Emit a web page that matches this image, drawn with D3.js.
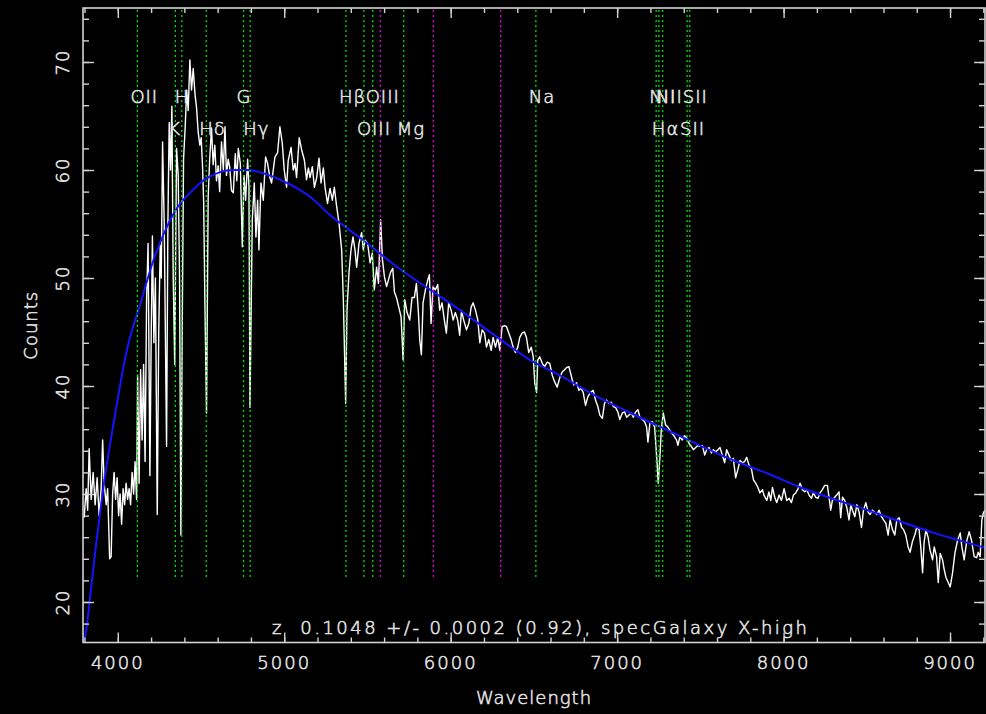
<!DOCTYPE html>
<html>
<head>
<meta charset="utf-8">
<script src="https://cdn.jsdelivr.net/npm/d3@7/dist/d3.min.js"></script>
<style>
  html, body { margin: 0; padding: 0; background: #000; }
  svg { display: block; }
  text { font-family: "DejaVu Sans", "Liberation Sans", sans-serif; font-weight: 200; fill: #e4e4e4; stroke: #e4e4e4; stroke-width: 0.55px; font-size: 18px; letter-spacing: 1px; }
</style>
</head>
<body>
<svg id="chart" width="986" height="714"></svg>
<script>
// ---- data ----
const redshift = 0.1048;
const xTicks = [4000, 5000, 6000, 7000, 8000, 9000];
const yTicks = [20, 30, 40, 50, 60, 70];

// spectral features (rest-frame wavelengths, Angstrom)
const lineNames = ["OII", "K", "H", "Hδ", "G", "Hγ", "Hβ", "OIII", "OIII", "Mg", "Na", "NII", "Hα", "NII", "SII", "SII"];
const lineRest  = [3727.1, 3933.7, 3968.5, 4101.7, 4304.4, 4340.5, 4861.3, 4958.9, 5006.8, 5175.3, 5894.0, 6548.1, 6562.8, 6583.4, 6716.4, 6730.8];
const lineRow   = [0, 1, 0, 1, 0, 1, 0, 1, 0, 1, 0, 0, 1, 0, 1, 0];
// night-sky lines (observed frame)
const skyLines = [5577.3, 5895.9, 6300.3];

// smooth continuum fit [wavelength, counts]
const continuum = [
  [3792,16.0],[3814,17.8],[3832,20.2],[3852,23.0],[3872,25.6],[3894,28.3],[3912,30.4],[3942,33.5],
  [3972,36.3],[4002,39.0],[4032,41.6],[4062,43.8],[4092,45.5],[4134,47.5],[4173,49.6],[4213,51.6],
  [4255,53.3],[4297,54.8],[4333,55.9],[4375,56.9],[4435,57.9],[4495,58.8],[4555,59.4],[4615,59.8],
  [4694,60.0],[4778,60.0],[4874,59.7],[4976,59.1],[5078,58.3],[5157,57.5],[5277,55.8],[5475,53.5],
  [5680,51.0],[5878,48.9],[6077,46.8],[6281,44.5],[6479,42.4],[6678,40.8],[6882,39.0],[7081,37.5],
  [7303,35.9],[7700,33.1],[7904,31.9],[8103,30.6],[8506,28.5],[8903,26.4],[9216,25.0]
];

// observed spectrum [wavelength, counts]
const spectrum = [
  [3798,27.8],[3810,30.5],[3819,28.5],[3828,34.2],[3840,29.5],[3852,32.0],[3864,29.0],[3876,31.5],[3888,28.0],[3900,30.5],
  [3909,35.0],[3918,31.0],[3930,29.0],[3939,30.5],[3951,24.0],[3960,24.2],[3969,30.0],[3978,32.0],[3987,29.5],[3996,31.5],
  [4005,28.0],[4014,30.0],[4023,27.2],[4032,30.5],[4041,29.0],[4050,31.0],[4059,29.5],[4068,30.5],[4077,29.0],[4086,32.0],
  [4095,30.0],[4104,33.0],[4113,29.5],[4119,41.0],[4128,31.0],[4137,41.5],[4146,35.0],[4155,42.0],[4164,33.0],[4173,48.0],
  [4182,53.2],[4193,31.7],[4201,45.0],[4208,53.9],[4217,44.0],[4226,50.0],[4237,28.1],[4246,45.0],[4255,53.0],[4261,50.0],
  [4269,62.6],[4279,55.0],[4293,34.4],[4301,55.0],[4309,64.4],[4317,60.0],[4325,65.9],[4333,50.0],[4342,42.0],[4353,62.0],
  [4363,59.5],[4371,50.0],[4379,26.2],[4387,45.0],[4395,61.0],[4405,64.0],[4414,67.4],[4423,65.5],[4433,70.2],[4443,67.4],
  [4453,69.4],[4464,67.0],[4473,65.8],[4483,63.5],[4493,62.3],[4501,63.0],[4509,60.4],[4516,57.0],[4523,48.0],[4533,37.5],
  [4543,57.5],[4552,61.0],[4563,63.9],[4573,60.5],[4583,62.3],[4593,59.0],[4603,60.4],[4612,58.0],[4623,62.6],[4634,60.0],
  [4644,64.0],[4653,59.5],[4663,61.0],[4672,60.3],[4683,58.1],[4694,57.9],[4706,61.5],[4715,59.0],[4724,62.0],[4736,60.6],
  [4748,52.9],[4758,59.5],[4768,57.2],[4780,61.0],[4788,58.5],[4794,38.0],[4808,55.4],[4820,58.8],[4830,53.8],[4840,57.2],
  [4848,52.6],[4860,58.8],[4874,57.2],[4888,61.2],[4900,60.6],[4914,59.3],[4924,58.8],[4944,61.2],[4960,61.6],[4974,64.0],
  [4988,62.5],[5000,60.0],[5014,58.4],[5024,60.9],[5041,62.1],[5054,60.0],[5065,60.6],[5074,59.3],[5090,63.0],[5104,61.9],
  [5121,60.9],[5134,59.1],[5145,60.2],[5155,59.3],[5169,60.3],[5181,58.4],[5195,59.3],[5209,61.1],[5221,58.8],[5235,60.2],
  [5245,58.4],[5260,56.9],[5275,58.3],[5289,57.2],[5301,58.4],[5315,56.6],[5329,55.1],[5345,52.6],[5355,48.0],[5369,38.4],
  [5377,47.0],[5389,50.5],[5401,52.6],[5413,53.8],[5425,52.6],[5435,51.0],[5449,53.2],[5465,54.2],[5475,52.6],[5486,53.5],
  [5501,53.2],[5516,51.4],[5529,52.3],[5541,48.9],[5555,51.0],[5566,49.5],[5579,55.4],[5590,51.7],[5602,50.1],[5615,49.2],
  [5638,50.5],[5652,50.9],[5662,48.7],[5674,48.2],[5688,47.3],[5702,46.4],[5714,42.4],[5724,48.0],[5738,46.8],[5754,46.1],
  [5768,48.2],[5782,48.2],[5794,49.5],[5806,46.8],[5814,44.3],[5824,42.9],[5834,47.7],[5848,48.9],[5862,49.8],[5872,50.3],
  [5882,45.8],[5894,49.2],[5908,48.9],[5922,49.4],[5934,47.0],[5948,47.7],[5962,46.1],[5974,44.9],[5988,47.7],[6003,47.0],
  [6015,46.1],[6028,46.8],[6042,46.1],[6054,44.7],[6065,47.0],[6078,46.1],[6095,45.2],[6109,45.8],[6123,47.3],[6135,47.7],
  [6149,47.0],[6163,46.1],[6175,44.0],[6189,45.2],[6203,44.9],[6215,43.6],[6229,44.3],[6243,43.3],[6255,44.5],[6269,43.6],
  [6283,44.5],[6295,43.3],[6309,45.5],[6323,45.6],[6335,45.5],[6349,44.9],[6363,44.3],[6375,43.6],[6389,43.1],[6403,43.6],
  [6415,44.5],[6429,44.9],[6443,45.0],[6455,44.5],[6469,43.1],[6484,43.6],[6496,42.7],[6505,40.3],[6516,39.4],[6523,42.4],
  [6535,42.7],[6550,42.1],[6564,41.8],[6580,42.2],[6595,42.1],[6610,41.0],[6624,40.4],[6640,39.9],[6656,40.8],[6670,41.3],
  [6684,41.5],[6696,41.7],[6710,41.8],[6720,41.2],[6730,40.6],[6740,40.1],[6756,40.3],[6770,39.6],[6784,39.8],[6796,39.4],
  [6810,38.2],[6824,39.0],[6840,39.4],[6856,39.6],[6870,38.7],[6884,38.1],[6896,37.3],[6911,37.0],[6924,38.4],[6936,38.7],
  [6950,38.4],[6965,38.5],[6977,38.1],[6991,38.0],[7004,37.6],[7016,36.9],[7031,37.5],[7045,37.6],[7057,37.1],[7070,37.3],
  [7085,37.5],[7097,37.1],[7111,37.6],[7125,37.8],[7137,37.1],[7151,36.9],[7165,36.7],[7177,36.2],[7185,34.8],[7197,36.6],
  [7211,36.7],[7225,36.2],[7237,33.6],[7247,31.0],[7257,33.4],[7265,35.9],[7277,37.5],[7291,36.4],[7305,36.2],[7317,35.9],
  [7331,35.6],[7345,35.3],[7357,35.0],[7365,34.5],[7377,35.3],[7391,35.0],[7405,35.4],[7417,35.2],[7431,34.7],[7446,34.4],
  [7458,34.1],[7472,34.3],[7485,34.5],[7497,34.4],[7512,34.5],[7526,33.6],[7538,34.1],[7552,34.3],[7566,33.8],[7578,34.1],
  [7592,33.9],[7606,34.1],[7618,34.3],[7632,33.6],[7646,32.9],[7658,34.1],[7672,33.6],[7686,33.1],[7698,33.3],[7712,31.5],
  [7726,32.3],[7738,33.1],[7752,32.9],[7766,33.0],[7778,33.4],[7792,32.7],[7807,32.3],[7819,31.3],[7832,31.0],[7846,30.6],
  [7858,30.1],[7873,30.4],[7882,29.9],[7899,29.4],[7912,30.2],[7923,29.4],[7933,30.6],[7947,29.7],[7959,29.2],[7973,29.9],
  [7987,29.4],[8003,30.5],[8019,29.4],[8033,29.6],[8047,29.2],[8059,29.9],[8073,30.1],[8087,30.5],[8099,31.0],[8113,30.4],
  [8127,30.2],[8139,30.4],[8153,29.9],[8167,29.6],[8179,30.1],[8193,29.7],[8207,29.6],[8219,30.1],[8233,30.4],[8247,30.8],
  [8263,30.8],[8273,29.7],[8283,28.5],[8293,29.4],[8307,29.7],[8319,29.9],[8333,30.2],[8343,27.8],[8354,29.7],[8367,29.4],
  [8379,28.8],[8393,27.6],[8404,29.0],[8414,28.5],[8428,27.9],[8440,29.0],[8454,28.3],[8468,26.9],[8480,28.5],[8494,29.2],
  [8508,28.3],[8520,28.1],[8534,28.5],[8548,28.3],[8560,28.1],[8574,28.5],[8588,27.9],[8600,27.6],[8614,27.3],[8628,26.2],
  [8640,27.6],[8654,26.7],[8668,26.2],[8680,27.6],[8694,27.8],[8709,26.9],[8721,26.7],[8734,26.2],[8748,25.1],[8760,24.6],
  [8774,25.6],[8788,26.2],[8800,26.9],[8814,26.7],[8824,25.1],[8835,22.7],[8844,25.5],[8855,26.7],[8868,26.0],[8880,24.8],
  [8895,23.9],[8905,25.1],[8919,24.2],[8929,21.8],[8941,24.5],[8955,23.9],[8965,23.0],[8975,22.3],[8989,21.8],[9001,21.4],
  [9015,22.7],[9029,24.5],[9045,25.7],[9061,26.4],[9071,25.1],[9085,23.9],[9101,25.7],[9115,26.5],[9129,25.7],[9145,24.2],
  [9160,24.1],[9169,24.6],[9181,24.2],[9191,27.6],[9201,28.3],[9215,28.5]
];

const xTitle = "Wavelength";
const yTitle = "Counts";
const summary = "z  0.1048 +/- 0.0002 (0.92), specGalaxy X-high";

// ---- layout ----
const W = 986, H = 714;
const m = { left: 83, right: 1, top: 8, bottom: 71.5 };
const pw = W - m.left - m.right, ph = H - m.top - m.bottom;
const axisColor = "#d2d2d2";

const svg = d3.select("#chart");
svg.append("rect").attr("width", W).attr("height", H).attr("fill", "#000");

const x = d3.scaleLinear().domain([3791, 9210]).range([0, pw]);
const y = d3.scaleLinear().domain([16.25, 75]).range([ph, 0]);

const g = svg.append("g").attr("transform", `translate(${m.left},${m.top})`);

svg.append("defs").append("clipPath").attr("id", "plotclip")
  .append("rect").attr("width", pw).attr("height", ph);

const plot = g.append("g").attr("clip-path", "url(#plotclip)");

// spectrum
plot.append("path")
  .datum(spectrum)
  .attr("fill", "none")
  .attr("stroke", "#ffffff")
  .attr("stroke-width", 1.4)
  .attr("stroke-linejoin", "round")
  .attr("d", d3.line().x(d => x(d[0])).y(d => y(d[1])));

// continuum fit
plot.append("path")
  .datum(continuum)
  .attr("fill", "none")
  .attr("stroke", "#1414ff")
  .attr("stroke-width", 2)
  .attr("d", d3.line().curve(d3.curveMonotoneX).x(d => x(d[0])).y(d => y(d[1])));

// feature markers
const markerBottom = ph * 0.9;
const features = lineRest.map((w, i) => ({ name: lineNames[i], obs: w * (1 + redshift), row: lineRow[i] }));

plot.selectAll("line.sky").data(skyLines).join("line")
  .attr("class", "sky")
  .attr("x1", d => x(d)).attr("x2", d => x(d))
  .attr("y1", 2).attr("y2", markerBottom)
  .attr("stroke", "#e000e0").attr("stroke-width", 1.3)
  .attr("stroke-dasharray", "2,3");

plot.selectAll("line.feat").data(features).join("line")
  .attr("class", "feat")
  .attr("x1", d => x(d.obs)).attr("x2", d => x(d.obs))
  .attr("y1", 2).attr("y2", markerBottom)
  .attr("stroke", "#00e000").attr("stroke-width", 1.3)
  .attr("stroke-dasharray", "2,3");

g.selectAll("text.feat").data(features).join("text")
  .attr("class", "feat")
  .attr("x", d => x(d.obs) - 7)
  .attr("y", d => ph * (d.row === 0 ? 0.15 : 0.2))
  .text(d => d.name);

// ---- axes (ticks drawn inward on all four sides) ----
const xMinor = d3.range(3800, 9201, 200);
const yMinor = d3.range(18, 75, 2);

function ticks(sel, axis) {
  sel.call(axis);
  sel.select(".domain").remove();
  sel.selectAll("line").attr("stroke", axisColor).attr("stroke-width", 1.4);
  sel.selectAll("text").remove();
}

g.append("g").attr("transform", `translate(0,${ph})`)
  .call(ticks, d3.axisBottom(x).tickValues(xMinor).tickSize(-5));
g.append("g").attr("transform", `translate(0,${ph})`)
  .call(ticks, d3.axisBottom(x).tickValues(xTicks).tickSize(-10));
g.append("g")
  .call(ticks, d3.axisTop(x).tickValues(xMinor).tickSize(-5));
g.append("g")
  .call(ticks, d3.axisTop(x).tickValues(xTicks).tickSize(-10));

g.append("g")
  .call(ticks, d3.axisLeft(y).tickValues(yMinor).tickSize(-6));
g.append("g")
  .call(ticks, d3.axisLeft(y).tickValues(yTicks).tickSize(-11));
g.append("g").attr("transform", `translate(${pw},0)`)
  .call(ticks, d3.axisRight(y).tickValues(yMinor).tickSize(-6));
g.append("g").attr("transform", `translate(${pw},0)`)
  .call(ticks, d3.axisRight(y).tickValues(yTicks).tickSize(-11));

// frame
g.append("rect")
  .attr("width", pw).attr("height", ph)
  .attr("fill", "none").attr("stroke", axisColor).attr("stroke-width", 1.6);

// tick labels
g.selectAll("text.xl").data(xTicks).join("text")
  .attr("class", "xl")
  .attr("x", d => x(d)).attr("y", ph + 26)
  .attr("text-anchor", "middle")
  .style("letter-spacing", "2px")
  .text(d => d);

g.selectAll("text.yl").data(yTicks).join("text")
  .attr("class", "yl")
  .attr("transform", d => `translate(-14,${y(d)}) rotate(-90)`)
  .attr("text-anchor", "middle")
  .style("letter-spacing", "2px")
  .text(d => d);

// titles
g.append("text")
  .attr("x", pw / 2).attr("y", ph + 61)
  .attr("text-anchor", "middle")
  .text(xTitle);

g.append("text")
  .attr("transform", `translate(-46,${ph / 2}) rotate(-90)`)
  .attr("text-anchor", "middle")
  .text(yTitle);

g.append("text")
  .attr("x", 189).attr("y", ph - 9)
  .attr("textLength", 536)
  .attr("lengthAdjust", "spacing")
  .style("white-space", "pre")
  .text(summary);
</script>
</body>
</html>
